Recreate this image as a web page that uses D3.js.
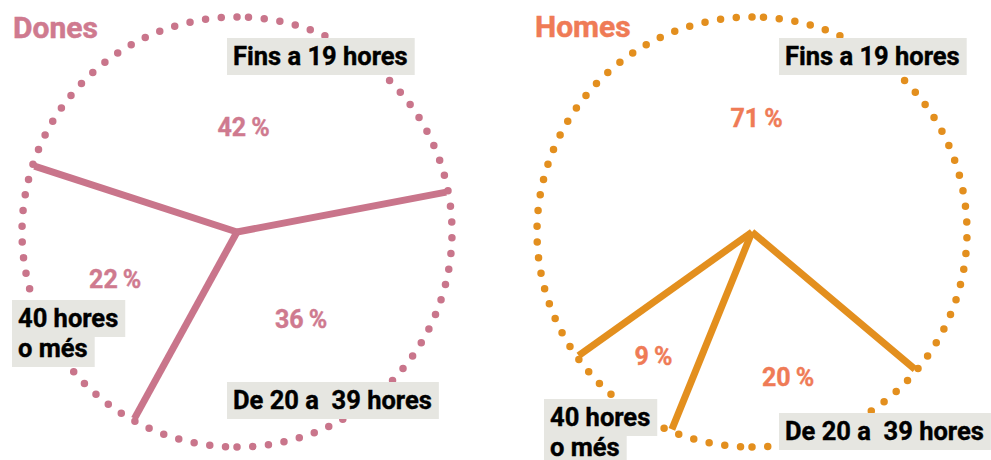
<!DOCTYPE html>
<html>
<head>
<meta charset="utf-8">
<script src="https://cdn.jsdelivr.net/npm/d3@7"></script>
<style>
  body { margin: 0; background: #fff; }
  svg { display: block; font-family: Roboto, "DejaVu Sans", sans-serif; }
  .lbl { white-space: pre; }
</style>
</head>
<body>
<svg width="991" height="460"></svg>
<script>
// data
const categories = ["Fins a 19 hores", "De 20 a  39 hores", "40 hores\no més"];
const titles = ["Dones", "Homes"];
const donesValues = [42, 36, 22];
const homesValues = [71, 20, 9];

let svg = d3.select("svg");

const deg = Math.PI / 180;

// layout for each pie
let charts = [
  {
    title: titles[0], values: donesValues,
    cx: 237, cy: 232, r: 215, spokeR: 213, start: 288 * deg,
    line: "#c9758b", text: "#cf7a8f",
    titleX: 13, titleY: 38,
    pctR: [104, 109, 131],
    boxes: [[227, 38], [227, 382], [12, 300]]
  },
  {
    title: titles[1], values: homesValues,
    cx: 752, cy: 232, r: 215, spokeR: 213, start: 234.5 * deg,
    line: "#e38f1e", text: "#ef7b56",
    titleX: 535, titleY: 37,
    pctR: [113, 150, 159],
    boxes: [[779, 38], [779, 413], [544, 399]]
  }
];

function pointAt(c, a, rr) {
  return [c.cx + rr * Math.sin(a), c.cy - rr * Math.cos(a)];
}

charts.forEach(c => {
  let g = svg.append("g");

  let pie = d3.pie()
      .sort(null)
      .value(d => d)
      .startAngle(c.start)
      .endAngle(c.start + 2 * Math.PI);
  let arcs = pie(c.values);

  // dotted outline, drawn as two halves
  [[-Math.PI / 2, -1.5 * Math.PI], [Math.PI / 2, -Math.PI / 2]].forEach(h => {
    let p = d3.path();
    p.arc(c.cx, c.cy, c.r, h[0], h[1], true);
    g.append("path")
        .attr("d", p.toString())
        .attr("fill", "none")
        .attr("stroke", c.line)
        .attr("stroke-width", 7.5)
        .attr("stroke-linecap", "round")
        .attr("stroke-dasharray", "0 15.8");
  });

  // spokes on slice boundaries
  g.selectAll("line.spoke")
    .data(arcs)
    .enter().append("line")
      .attr("class", "spoke")
      .attr("x1", c.cx)
      .attr("y1", c.cy)
      .attr("x2", d => pointAt(c, d.startAngle, c.spokeR)[0])
      .attr("y2", d => pointAt(c, d.startAngle, c.spokeR)[1])
      .attr("stroke", c.line)
      .attr("stroke-width", 7)
      .attr("stroke-linecap", "butt");

  // percentages
  g.selectAll("text.pct")
    .data(arcs)
    .enter().append("text")
      .attr("class", "pct lbl")
      .attr("x", (d, i) => pointAt(c, (d.startAngle + d.endAngle) / 2, c.pctR[i])[0])
      .attr("y", (d, i) => pointAt(c, (d.startAngle + d.endAngle) / 2, c.pctR[i])[1] + 8)
      .attr("text-anchor", "middle")
      .attr("fill", c.text)
      .attr("stroke", c.text)
      .attr("stroke-width", 0.4)
      .attr("font-size", 25)
      .attr("font-weight", 700)
      .text(d => d.data + "\u2009%");

  // title
  g.append("text")
      .attr("x", c.titleX)
      .attr("y", c.titleY)
      .attr("fill", c.text)
      .attr("stroke", c.text)
      .attr("stroke-width", 0.5)
      .attr("font-size", 30)
      .attr("font-weight", 700)
      .text(c.title);

  // category boxes
  categories.forEach((cat, i) => {
    let [bx, by] = c.boxes[i];
    cat.split("\n").forEach((ln, j) => {
      let top = j === 0 ? by : by + 37 + (j - 1) * 30;
      let h = j === 0 ? 37 : 30;
      let base = j === 0 ? by + 27 : top + 20;
      let rect = g.append("rect")
          .attr("x", bx)
          .attr("y", top)
          .attr("height", h)
          .attr("fill", "#e6e6e1");
      let t = g.append("text")
          .attr("class", "lbl")
          .attr("x", bx + 6)
          .attr("y", base)
          .attr("fill", "#000")
          .attr("stroke", "#000")
          .attr("stroke-width", 0.4)
          .attr("font-size", 25.5)
          .attr("font-weight", 700)
          .text(ln);
      rect.attr("width", t.node().getComputedTextLength() + 13);
    });
  });
});
</script>
</body>
</html>
